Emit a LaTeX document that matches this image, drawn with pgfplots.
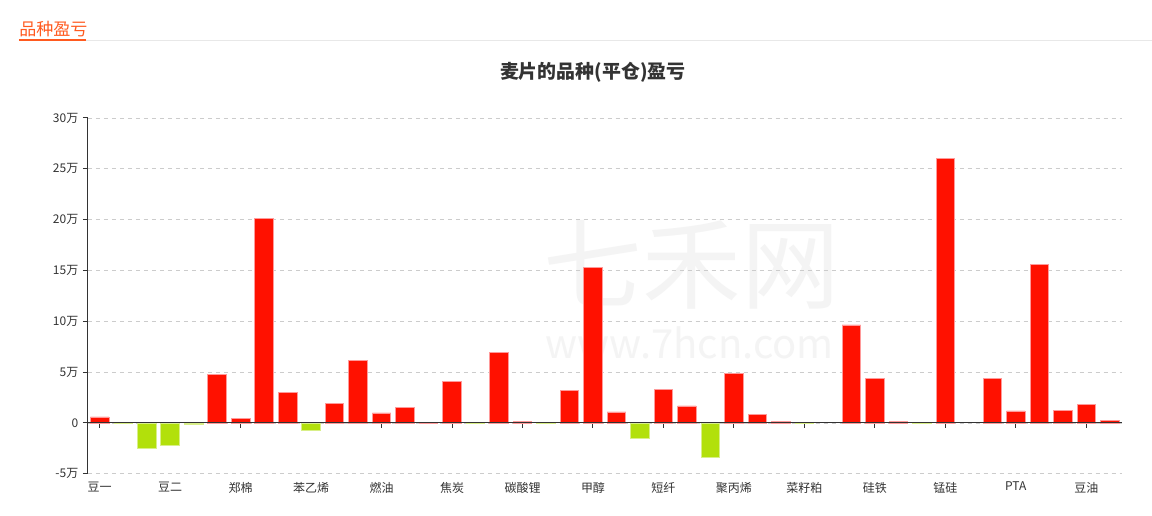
\documentclass[border=0pt]{standalone}
\usepackage{fontspec}
\setmainfont{Noto Sans CJK SC}
\usepackage{pgfplots}
\pgfplotsset{compat=1.18}
\definecolor{hdr}{HTML}{FF5A1F}
\definecolor{linegray}{HTML}{E8E8E8}
\definecolor{titlec}{HTML}{333333}
\definecolor{txt}{HTML}{333333}
\definecolor{barred}{HTML}{FF1100}
\definecolor{rededge}{HTML}{FF9A9A}
\definecolor{bargreen}{HTML}{B2E00B}
\definecolor{greenedge}{HTML}{D8EF88}
\definecolor{wm}{HTML}{F4F4F4}
\definecolor{gridc}{HTML}{CCCCCC}
\begin{document}
\begin{tikzpicture}[x=1pt,y=1pt]
\fill[white] (0,0) rectangle (864,387);
\node[anchor=west, text=hdr, font=\fontsize{12.8}{14}\selectfont, inner sep=0] at (14.25,365) {品种盈亏};
\draw[linegray, line width=0.75pt] (14.25,356.25) -- (864,356.25);
\draw[hdr, line width=1.5pt] (14.25,357) -- (64.5,357);
\node[font=\bfseries\fontsize{14.2}{16}\selectfont, text=titlec] at (444.75,332.5) {麦片的品种(平仓)盈亏};
\node[text=wm, font=\fontsize{74}{80}\selectfont] at (519,188) {七禾网};
\node[text=wm, font=\fontsize{30}{32}\selectfont] at (517.5,130) {www.7hcn.com};
\begin{axis}[
  at={(66pt,31.5pt)}, anchor=south west,
  scale only axis, width=775.5pt, height=267pt,
  xmin=-0.5, xmax=43.5, ymin=-50000, ymax=300000,
  axis y line*=left, axis x line*=bottom,
  x axis line style={draw=none},
  y axis line style={draw=txt, line width=0.75pt},
  xtick={0,3,...,42},
  xticklabels={豆一,豆二,郑棉,苯乙烯,燃油,焦炭,碳酸锂,甲醇,短纤,聚丙烯,菜籽粕,硅铁,锰硅,PTA,豆油},
  major x tick style={draw=none},
  ytick={-50000,0,50000,100000,150000,200000,250000,300000},
  yticklabels={-5万,0,5万,10万,15万,20万,25万,30万},
  major y tick style={draw=txt, line width=0.75pt},
  tick align=outside, major tick length=3.75pt,
  ymajorgrids, grid style={dashed, gridc, line width=0.6pt},
  tick label style={font=\fontsize{9}{10}\selectfont, text=txt},
  xticklabel style={yshift=1pt},
  scaled y ticks=false,
  enlargelimits=false,
  clip=false,
]
\addplot[ycomb, draw=txt, line width=0.75pt, no marks] coordinates {
(0,-5000) (3,-5000) (6,-5000) (9,-5000) (12,-5000) (15,-5000) (18,-5000) (21,-5000)
(24,-5000) (27,-5000) (30,-5000) (33,-5000) (36,-5000) (39,-5000) (42,-5000)};
\addplot[ybar, bar width=0.79, fill=barred, draw=rededge, line width=0.6pt] coordinates {
(0,5900) (5,47400) (6,4200) (7,201300) (8,30400) (10,19000) (11,61400) (12,9800)
(13,15400) (14,500) (15,40500) (17,69600) (18,1300) (20,31700) (21,153300) (22,10800)
(24,33300) (25,16700) (27,49000) (28,8800) (29,1300) (32,96400) (33,43800) (34,1300)
(36,260100) (38,44100) (39,11800) (40,155900) (41,12100) (42,18300) (43,2600)};
\addplot[ybar, bar width=0.79, fill=bargreen, draw=greenedge, line width=0.6pt] coordinates {
(1,-500) (2,-24800) (3,-22500) (4,-1300) (9,-7800) (16,-200) (19,-100) (23,-15400)
(26,-33700) (30,-300) (35,-100)};
\addplot[draw=txt, line width=0.75pt, no marks] coordinates {(-0.5,0) (43.5,0)};
\end{axis}
\end{tikzpicture}
\end{document}
